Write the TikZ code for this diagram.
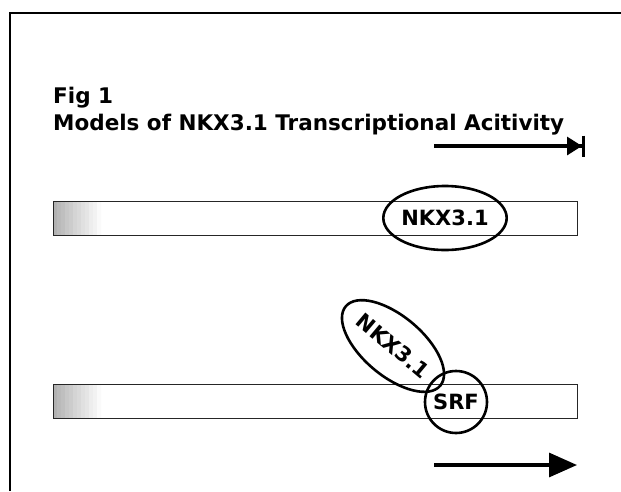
\documentclass[tikz,border=0pt]{standalone}
\usepackage{fontspec}
\setmainfont{DejaVu Sans}
\usetikzlibrary{positioning,shapes.geometric,arrows.meta}

\begin{document}
\begin{tikzpicture}[x=1pt,y=-1pt,
		title/.style={font=\bfseries\fontsize{21.5}{22}\selectfont,inner sep=0pt,anchor=base west},
		dna/.style={rectangle,draw=black!85,line width=1pt,inner sep=0pt,minimum width=524pt,minimum height=34pt,anchor=west},
		factor/.style={ellipse,draw=black,line width=2.6pt,inner sep=0pt,font=\bfseries\fontsize{21}{21}\selectfont},
		srfbox/.style={circle,draw=black,line width=2.6pt,inner sep=0pt,minimum size=62pt,font=\bfseries\fontsize{21}{21}\selectfont},
		flow/.style={line width=3.2pt}]

	\useasboundingbox (0,0) rectangle (621,491);
	\draw[line width=1.4pt] (10,491) -- (10,13) -- (621,13);

	\node[title] (fig) at (53,103) {Fig 1};
	\node[title] (head) at (53,130) {Models of NKX3.1 Transcriptional Acitivity};

	% faded left ends of the promoters
	\foreach \i in {0,...,11}
		\pgfmathsetmacro\tone{int(30-2.5*\i)}
		\fill[black!\tone] (53+4*\i,201) rectangle ++(4,34)
			(53+4*\i,384) rectangle ++(4,34);

	% repressed promoter
	\coordinate (stopa) at (434,146);
	\coordinate (stopb) at (585,146);
	\draw[flow,-{Triangle[length=15pt,width=18pt]Bar[width=21pt,line width=3pt]}] (stopa) -- (stopb);
	\node[dna] (dnaa) at (53,218) {};
	\node[factor,minimum width=110pt,minimum height=64pt] (nkxa) at (445,218) {NKX3.1};

	% activated promoter
	\node[dna] (dnab) at (53,401) {};
	\node[srfbox] (srf) at (456,402) {SRF};
	\node[factor,minimum width=114pt,minimum height=60pt,rotate=-40] (nkxb) at (393,346) {NKX3.1};
	\coordinate (goa) at (434,465);
	\coordinate (gob) at (577,465);
	\draw[flow,-{Triangle[length=28pt,width=24pt]}] (goa) -- (gob);
\end{tikzpicture}
\end{document}
